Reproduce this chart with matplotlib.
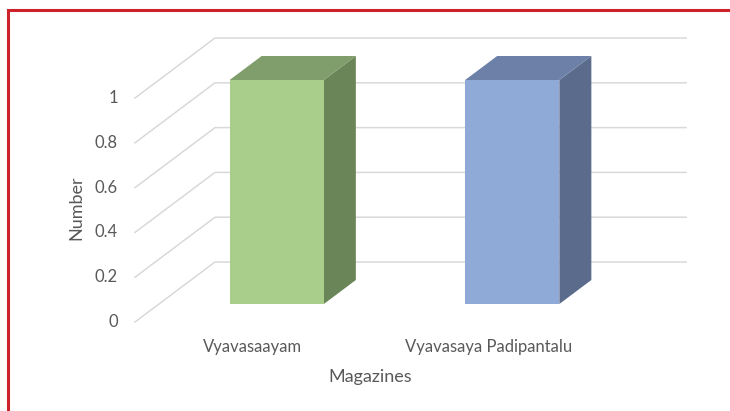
import numpy as np
import matplotlib
matplotlib.use("Agg")
import matplotlib.pyplot as plt
from matplotlib.patches import Polygon, Rectangle

# chart data
magazines = ["Vyavasaayam", "Vyavasaya Padipantalu"]
counts = [1, 1]
y_ticks = [0, 0.2, 0.4, 0.6, 0.8, 1]
y_tick_labels = ["0", "0.2", "0.4", "0.6", "0.8", "1"]

front_colors = ["#A9CD8A", "#8FAAD6"]
top_colors = ["#7F9E6B", "#6C80A8"]
side_colors = ["#6A8558", "#5B6B8C"]

plt.rcParams['font.family'] = ['Lato', 'DejaVu Sans']
text_color = "#595959"
grid_color = "#D9D9D9"

W, H = 730, 411
fig = plt.figure(figsize=(W / 100, H / 100), dpi=100)
ax = fig.add_axes([0, 0, 1, 1])

# oblique projection: depth offset in data units
px_cat = 235.5   # pixels per category
px_val = 224.0   # pixels per value unit
x0_px, y0_px = 135, 322
dx_full = 80 / px_cat
dy_full = 60 / px_val

ax.set_xlim((0 - x0_px) / px_cat - 0.5, (W - x0_px) / px_cat - 0.5)
ax.set_ylim((y0_px - H) / px_val, y0_px / px_val)
ax.axis("off")


def proj(x, v, d):
    # d: depth fraction 0 (front) .. 1 (back)
    return (x + d * dx_full, v + d * dy_full)


x_left, x_right = -0.5, len(magazines) - 0.5

# gridlines: diagonal on left wall, horizontal on back wall
for t in y_ticks:
    p0 = proj(x_left, t, 0)
    p1 = proj(x_left, t, 1)
    p2 = proj(x_right, t, 1)
    ax.plot([p0[0], p1[0], p2[0]], [p0[1], p1[1], p2[1]],
            color=grid_color, lw=1.1, solid_joinstyle="miter", zorder=1)

# tick labels
for t, lab in zip(y_ticks, y_tick_labels):
    ax.text(x_left - 17 / px_cat, t, lab, ha="right", va="center",
            fontsize=12, color=text_color)

# 3d bars
bar_w = 0.4
d_front, d_back = 0.3, 0.7
for i, (v, fc, tc, sc) in enumerate(zip(counts, front_colors, top_colors, side_colors)):
    xl, xr = i - bar_w / 2, i + bar_w / 2
    front = [proj(xl, 0, d_front), proj(xr, 0, d_front),
             proj(xr, v, d_front), proj(xl, v, d_front)]
    top = [proj(xl, v, d_front), proj(xr, v, d_front),
           proj(xr, v, d_back), proj(xl, v, d_back)]
    side = [proj(xr, 0, d_front), proj(xr, 0, d_back),
            proj(xr, v, d_back), proj(xr, v, d_front)]
    ax.add_patch(Polygon(side, closed=True, fc=sc, ec="none", zorder=3))
    ax.add_patch(Polygon(top, closed=True, fc=tc, ec="none", zorder=3))
    ax.add_patch(Polygon(front, closed=True, fc=fc, ec="none", zorder=4))

# category labels
for i, name in enumerate(magazines):
    ax.text(i, -25 / px_val, name, ha="center", va="center",
            fontsize=12, color=text_color)

ax.text((x_left + x_right) / 2, -55 / px_val, "Magazines", ha="center",
        va="center", fontsize=13, color=text_color)
ax.text(x_left - 59 / px_cat, (y0_px - 208) / px_val, "Number", ha="center",
        va="center", rotation=90, fontsize=13, color=text_color)

# red frame around the chart (runs off right and bottom)
fig.patches.append(Rectangle((8 / W, -0.05), 1.2, 1 - 10.5 / H + 0.05,
                             transform=fig.transFigure, fill=False,
                             ec="#CC2229", lw=2.2, zorder=10))

fig.savefig("out.png", dpi=100, facecolor="white")
